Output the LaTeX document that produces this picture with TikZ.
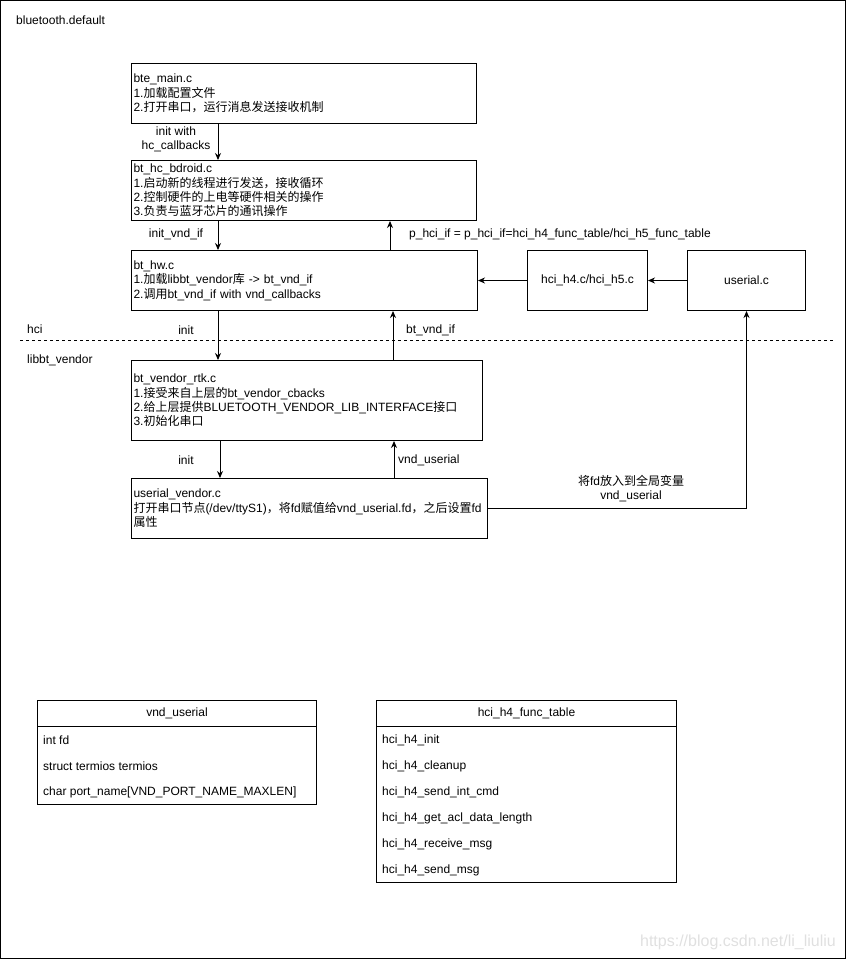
\documentclass[tikz,border=0pt]{standalone}
\usepackage{fontspec}
\setmainfont{Liberation Sans}
\newfontfamily\cjk{Noto Sans CJK SC}
\usetikzlibrary{arrows.meta}
\newcommand\zh[1]{{\cjk #1}}
\begin{document}
\begin{tikzpicture}[x=1pt,y=-1pt,
  every node/.style={font=\fontsize{12}{14.4}\selectfont},
  box/.style={draw, line width=1pt, anchor=north west, inner xsep=2pt, inner ysep=0pt, align=left},
  lbl/.style={inner sep=0pt, align=center},
  arr/.style={draw, line width=1pt, -{Stealth[length=7pt,width=6pt]}},
  cell/.style={draw, line width=1pt, anchor=north west, inner sep=0pt},
  row/.style={anchor=west, inner sep=0pt},
]
\useasboundingbox (0,0) rectangle (847,961);
\draw[line width=1pt] (0.5,0.5) rectangle (845.5,958.5);

\node[anchor=west, inner sep=0pt] (title) at (16,20) {bluetooth.default};

% boxes
\node[box, minimum width=345pt, minimum height=60pt, text width=341pt] (bte) at (131,63)
  {bte\_main.c\\1.\zh{加载配置文件}\\2.\zh{打开串口，运行消息发送接收机制}};
\node[box, minimum width=345pt, minimum height=60pt, text width=341pt] (bdroid) at (131,160)
  {bt\_hc\_bdroid.c\\1.\zh{启动新的线程进行发送，接收循环}\\2.\zh{控制硬件的上电等硬件相关的操作}\\3.\zh{负责与蓝牙芯片的通讯操作}};
\node[box, minimum width=346pt, minimum height=60pt, text width=342pt] (bthw) at (131,250)
  {bt\_hw.c\\1.\zh{加载}libbt\_vendor\zh{库} -> bt\_vnd\_if\\2.\zh{调用}bt\_vnd\_if with vnd\_callbacks};
\node[cell, minimum width=120pt, minimum height=60pt] (h4) at (527,250) {hci\_h4.c/hci\_h5.c};
\node[cell, minimum width=118pt, minimum height=60pt] (userial) at (687,250) {userial.c};
\node[box, minimum width=351pt, minimum height=80pt, text width=347pt] (rtk) at (131,360)
  {bt\_vendor\_rtk.c\\1.\zh{接受来自上层的}bt\_vendor\_cbacks\\2.\zh{给上层提供}BLUETOOTH\_VENDOR\_LIB\_INTERFACE\zh{接口}\\3.\zh{初始化串口}};
\node[box, minimum width=356pt, minimum height=60pt, text width=352pt] (uv) at (131,478)
  {userial\_vendor.c\\\zh{打开串口节点}(/dev/ttyS1)\zh{，将}fd\zh{赋值给}vnd\_userial.fd\zh{，之后设置}fd\\\zh{属性}};

% divider
\draw[line width=1pt, dash pattern=on 3pt off 3pt] (20,340) -- (835,340);
\node[anchor=west, inner sep=0pt] (hci) at (27,329) {hci};
\node[anchor=west, inner sep=0pt] (libv) at (27,360) {libbt\_vendor};

% connectors
\draw[arr] ([xshift=87pt]bte.south west) -- ([xshift=87pt]bdroid.north west);
\draw[arr] ([xshift=87pt]bdroid.south west) -- ([xshift=87pt]bthw.north west);
\draw[arr] ([xshift=259pt]bthw.north west) -- ([xshift=259pt]bdroid.south west);
\draw[arr] (userial.west) -- (h4.east);
\draw[arr] (h4.west) -- (bthw.east);
\draw[arr] ([xshift=87pt]bthw.south west) -- ([xshift=87pt]rtk.north west);
\draw[arr] ([xshift=262pt]rtk.north west) -- ([xshift=262pt]bthw.south west);
\draw[arr] ([xshift=89pt]rtk.south west) -- ([xshift=89pt]uv.north west);
\draw[arr] ([xshift=263pt]uv.north west) -- ([xshift=263pt]rtk.south west);
\draw[arr] (uv.east) -| (userial.south);

% labels
\node[lbl] (l1) at (176,139.5) {init with\\hc\_callbacks};
\node[lbl] (l2) at (176,234) {init\_vnd\_if};
\node[lbl, anchor=west] (l3) at (409,234) {p\_hci\_if = p\_hci\_if=hci\_h4\_func\_table/hci\_h5\_func\_table};
\node[lbl] (l4) at (186,330) {init};
\node[lbl, anchor=west] (l5) at (406,330) {bt\_vnd\_if};
\node[lbl] (l6) at (186,460) {init};
\node[lbl, anchor=west] (l7) at (398,460) {vnd\_userial};
\node[lbl] (l8) at (631,488.5) {\zh{将}fd\zh{放入到全局变量}\\vnd\_userial};

% table vnd_userial
\node[cell, minimum width=279pt, minimum height=26pt] (vh) at (37,700) {vnd\_userial};
\node[cell, minimum width=279pt, minimum height=78pt] (vb) at (37,726) {};
\node[row] (v1) at (43,740) {int fd};
\node[row] (v2) at (43,766) {struct termios termios};
\node[row] (v3) at (43,792) {char port\_name[VND\_PORT\_NAME\_MAXLEN]};

% table hci_h4_func_table
\node[cell, minimum width=300pt, minimum height=26pt] (th) at (376,700) {hci\_h4\_func\_table};
\node[cell, minimum width=300pt, minimum height=156pt] (tb) at (376,726) {};
\node[row] (t1) at (382,740) {hci\_h4\_init};
\node[row] (t2) at (382,766) {hci\_h4\_cleanup};
\node[row] (t3) at (382,792) {hci\_h4\_send\_int\_cmd};
\node[row] (t4) at (382,818) {hci\_h4\_get\_acl\_data\_length};
\node[row] (t5) at (382,844) {hci\_h4\_receive\_msg};
\node[row] (t6) at (382,870) {hci\_h4\_send\_msg};

% watermark
\node[anchor=east, inner sep=0pt, text=black!12, font=\fontsize{16}{19}\selectfont] (wm) at (836,942) {https://blog.csdn.net/li\_liuliu};
\end{tikzpicture}
\end{document}
